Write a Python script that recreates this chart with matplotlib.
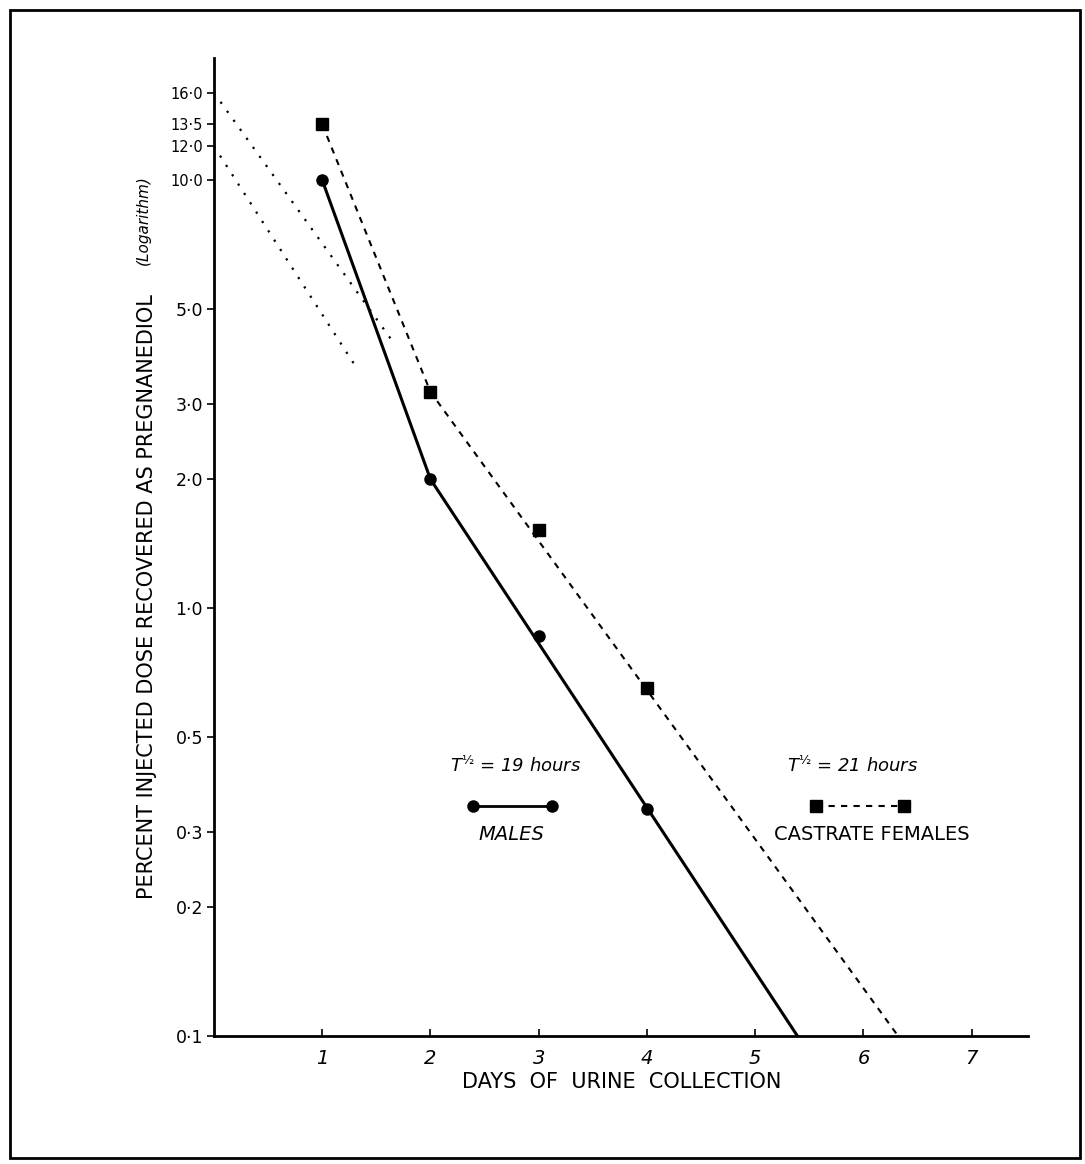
# ==================== #
# === LOAD PACKAGE === #
# ==================== #
import matplotlib.pyplot as plt
from matplotlib.ticker import NullLocator
from matplotlib.patches import Rectangle

# ==================== #
# ======= DATA ======= #
# ==================== #
days = [1, 2, 3, 4]
males = [10.0, 2.0, 0.86, 0.34]
females = [13.5, 3.2, 1.52, 0.65]

# drawn lines (fit through the points down to 0.1)
male_line_days = [1, 2, 5.39]
male_line_vals = [10.0, 2.0, 0.1]
female_line_days = [1, 2, 6.32]
female_line_vals = [13.5, 3.2, 0.1]

# dotted back-extrapolation to day 0
male_extrap_days = [0, 1.33]
male_extrap_vals = [12.0, 3.6]
female_extrap_days = [0, 1.65]
female_extrap_vals = [16.0, 4.2]

y_ticks = [0.1, 0.2, 0.3, 0.5, 1.0, 2.0, 3.0, 5.0, 10.0, 12.0, 13.5, 16.0]
y_labels = ["0·1", "0·2", "0·3", "0·5", "1·0", "2·0", "3·0", "5·0",
            "10·0", "12·0", "13·5", "16·0"]
x_ticks = [1, 2, 3, 4, 5, 6, 7]
x_labels = ["1", "2", "3", "4", "5", "6", "7"]

# ==================== #
# ====== FIGURE ====== #
# ==================== #
W, H = 1085, 1164
fig = plt.figure(figsize=(W / 100, H / 100), dpi=100)
ax = fig.add_axes([214 / W, 1 - 1036 / H, (1028 - 214) / W, (1036 - 58) / H])

ax.set_yscale("log")
ax.set_ylim(0.1, 19.3)
ax.set_xlim(0, 7.52)

DASH = (0, (3, 3))
DOT = (0, (1, 4))

# extrapolations
ax.plot(male_extrap_days, male_extrap_vals, color="black", lw=1.6, linestyle=DOT)
ax.plot(female_extrap_days, female_extrap_vals, color="black", lw=1.6, linestyle=DOT)

# series
ax.plot(male_line_days, male_line_vals, color="black", lw=2.2)
ax.plot(days, males, "o", color="black", ms=8)
ax.plot(female_line_days, female_line_vals, color="black", lw=1.5, linestyle=DASH)
ax.plot(days, females, "s", color="black", ms=8)

# axes
ax.spines["top"].set_visible(False)
ax.spines["right"].set_visible(False)
ax.spines["left"].set_linewidth(2.0)
ax.spines["bottom"].set_linewidth(2.0)
ax.yaxis.set_minor_locator(NullLocator())
ax.set_yticks(y_ticks)
ax.set_yticklabels(y_labels)
for lab, v in zip(ax.get_yticklabels(), y_ticks):
    lab.set_fontsize(10.5 if v >= 10 else 12.5)
ax.set_xticks(x_ticks)
ax.set_xticklabels(x_labels, fontstyle="italic", fontsize=14)
ax.tick_params(axis="x", direction="in", length=5, width=1.2, pad=9)
ax.tick_params(axis="y", direction="out", length=5, width=1.2, pad=3)

# legend (hand drawn style)
tr = ax.transAxes
ax.text(0.371, 0.276, "T$^{½}$ = 19 hours", transform=tr,
        ha="center", va="center", fontsize=13, fontstyle="italic")
ax.plot([0.318, 0.415], [0.235, 0.235], "-o", color="black", lw=2.0, ms=8,
        transform=tr)
ax.text(0.365, 0.2065, "MALES", transform=tr, ha="center", va="center",
        fontsize=14, fontstyle="italic")
ax.text(0.784, 0.276, "T$^{½}$ = 21 hours", transform=tr,
        ha="center", va="center", fontsize=13, fontstyle="italic")
ax.plot([0.7396, 0.8477], [0.235, 0.235], "s", color="black", ms=8,
        transform=tr)
ax.plot([0.7396, 0.8477], [0.235, 0.235], color="black", lw=1.5,
        linestyle=DASH, transform=tr)
ax.text(0.808, 0.2065, "CASTRATE FEMALES", transform=tr, ha="center",
        va="center", fontsize=14)

# axis titles
fig.text(147 / W, 1 - 597 / H, "PERCENT INJECTED DOSE RECOVERED AS PREGNANEDIOL",
         rotation=90, ha="center", va="center", fontsize=15)
fig.text(143 / W, 1 - 220 / H, "(Logarithm)", rotation=90, ha="center",
         va="center", fontsize=11, fontstyle="italic")
fig.text(622 / W, 1 - 1082 / H, "DAYS  OF  URINE  COLLECTION", ha="center",
         va="center", fontsize=15)

# scan frame
fig.patches.append(Rectangle((10 / W, 1 - 1158 / H), (1080 - 10) / W,
                             (1158 - 10) / H, transform=fig.transFigure,
                             fill=False, lw=2.0, color="black"))

fig.savefig("out.png", dpi=100)
